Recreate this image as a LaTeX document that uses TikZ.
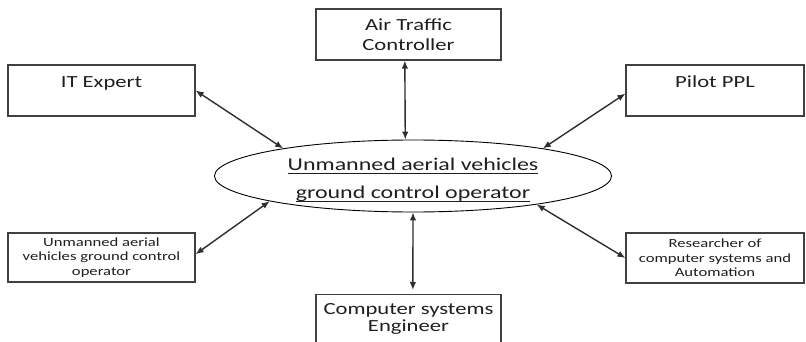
\documentclass[tikz,border=0pt]{standalone}
\usepackage{fontspec}
\setmainfont{Carlito}[FakeStretch=1.33]
\usetikzlibrary{arrows.meta,shapes.geometric}

% underline drawn at a fixed depth, through the descenders
\newcommand{\undertext}[1]{\mbox{\setbox0\hbox{#1}\rlap{\rule[-3.5pt]{\wd0}{0.9pt}}\box0}}

\tikzset{
  box/.style={draw=black!75, line width=1.2pt, rectangle, inner sep=0pt,
    align=center, text=black!88, font=\fontsize{17}{20}\selectfont},
  smallbox/.style={box, font=\fontsize{12.5}{14.5}\selectfont},
  topbox/.style={box, text height=12pt, text depth=17pt},
  hubnode/.style={draw=black, line width=0.9pt, ellipse, inner sep=0pt},
  hubtext/.style={inner sep=0pt, align=center, text=black!88,
    font=\fontsize{18}{28}\selectfont},
  conn/.style={draw=black!82, line width=1.4pt,
    arrows={Latex[length=8pt,width=6.5pt]-Latex[length=8pt,width=6.5pt]}}
}

\begin{document}
\begin{tikzpicture}[x=1pt,y=-1pt]
\useasboundingbox (0,0) rectangle (806,342);

% central role
\node[hubnode, minimum width=397pt, minimum height=72pt] (hub) at (413,176) {};
\node[hubtext] (hublabel) at (413,180)
  {\undertext{Unmanned aerial vehicles}\\\undertext{ground control operator}};

% surrounding roles
\node[box, minimum width=185pt, minimum height=51pt] (atc) at (408.5,34.5)
  {Air Traffic\\Controller};
\node[topbox, minimum width=187pt, minimum height=51pt] (it) at (101.5,90.5)
  {IT Expert};
\node[topbox, minimum width=178pt, minimum height=51pt] (pilot) at (715,90.5)
  {Pilot PPL};
\node[smallbox, minimum width=187pt, minimum height=49pt] (uav) at (101.5,257.5)
  {Unmanned aerial\\vehicles ground control\\operator};
\node[smallbox, minimum width=178pt, minimum height=50pt] (res) at (715,258)
  {Researcher of\\computer systems and\\Automation};
\node[draw=black!75, line width=1.2pt, rectangle, inner sep=0pt, text=black!88,
  font=\fontsize{17}{17}\selectfont, anchor=north,
  minimum width=185pt, minimum height=70pt, text height=12pt, text depth=43pt]
  (eng) at (408.5,294)
  {\begin{tabular}[t]{@{}c@{}}Computer systems\\Engineer\end{tabular}};

% two-way links
\draw[conn] (it.east) -- (hub.168);
\draw[conn] (atc.262) -- (hub.102);
\draw[conn] (pilot.182) -- (hub.12);
\draw[conn] (uav.2) -- (hub.190);
\draw[conn] (res.west) -- (hub.347);
\draw[conn, shorten >=4pt] (hub.south) -- (eng.83);
\end{tikzpicture}
\end{document}
